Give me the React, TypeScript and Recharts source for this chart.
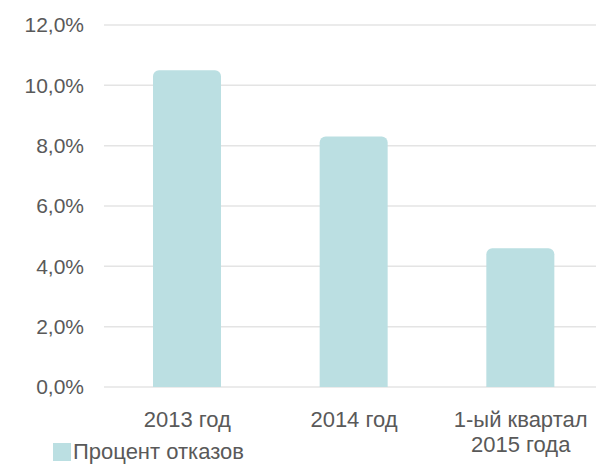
import { BarChart, Bar, XAxis, YAxis, CartesianGrid, Legend } from "recharts"

const categories = ["2013 год", "2014 год", "1-ый квартал\n2015 года"]
const refusalRate = [10.5, 8.3, 4.6]
const yTicks = [0, 2, 4, 6, 8, 10, 12]
const seriesName = "Процент отказов"

const data = categories.map((c, i) => ({ name: c, value: refusalRate[i] }))

const FONT = "'Liberation Sans', Arial, sans-serif"
const TEXT = "#595959"
const BAR = "#bbdfe2"

function CategoryTick(props: any) {
  const { x, y, payload } = props
  const lines = String(payload.value).split("\n")
  return (
    <g>
      {lines.map((line, i) => (
        <text
          key={i}
          x={x}
          y={y + 38 + i * 25}
          textAnchor="middle"
          fill={TEXT}
          fontSize={22}
          fontFamily={FONT}
        >
          {line}
        </text>
      ))}
    </g>
  )
}

function LegendBox() {
  return (
    <div style={{ display: "flex", alignItems: "center", height: 24, fontFamily: FONT }}>
      <span style={{ width: 18, height: 18, background: BAR, display: "inline-block" }} />
      <span style={{ fontSize: 22, color: TEXT, marginLeft: 2, lineHeight: "24px" }}>{seriesName}</span>
    </div>
  )
}

export default function App() {
  return (
    <div style={{ position: "absolute", left: 0, top: 0, width: 596, height: 464, overflow: "hidden", background: "#fff" }}>
      <BarChart
        width={620}
        height={464}
        data={data}
        margin={{ top: 25, right: 16, left: 0, bottom: 0 }}
      >
        <CartesianGrid vertical={false} stroke="#e4e4e4" strokeWidth={1.5} />
        <XAxis
          dataKey="name"
          axisLine={false}
          tickLine={false}
          tickSize={0}
          height={53}
          interval={0}
          tick={<CategoryTick />}
        />
        <YAxis
          domain={[0, 12]}
          ticks={yTicks}
          width={104}
          axisLine={false}
          tickLine={false}
          tickSize={0}
          tickMargin={20}
          tickFormatter={(v) => `${v.toFixed(1).replace(".", ",")}%`}
          tick={{ fill: TEXT, fontSize: 21, fontFamily: FONT }}
        />
        <Legend
          verticalAlign="bottom"
          align="left"
          content={<LegendBox />}
          wrapperStyle={{ left: 53, width: 300 }}
        />
        <Bar
          dataKey="value"
          name={seriesName}
          fill={BAR}
          barSize={68}
          radius={[6, 6, 0, 0]}
          isAnimationActive={false}
        />
      </BarChart>
    </div>
  )
}
